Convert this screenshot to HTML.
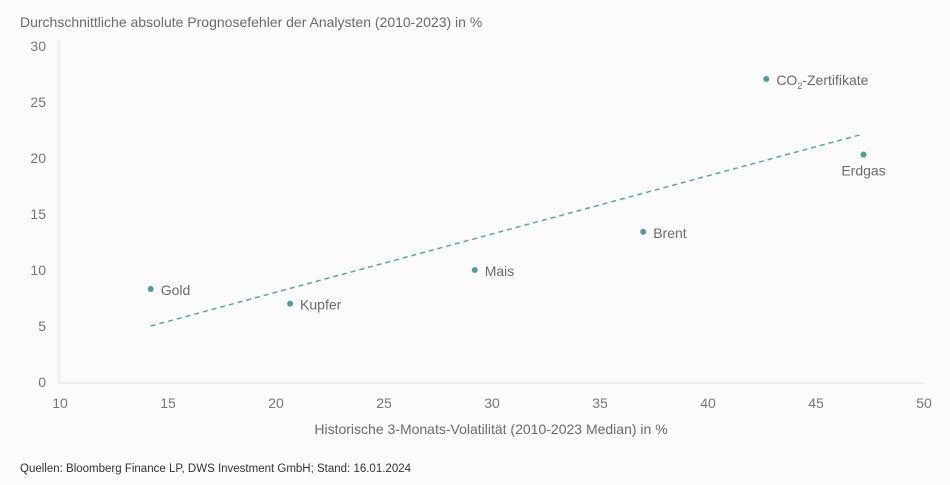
<!DOCTYPE html>
<html><head><meta charset="utf-8"><style>
body{margin:0;background:#fbfbfc;}
svg{display:block;font-family:"Liberation Sans",sans-serif;}
</style></head><body>
<svg id="chart" width="950" height="485">
<text x="20" y="27" font-size="14" fill="#6b6b6b">Durchschnittliche absolute Prognosefehler der Analysten (2010-2023) in %</text>
<text x="491" y="434" font-size="14" fill="#6b6b6b" text-anchor="middle">Historische 3-Monats-Volatilität (2010-2023 Median) in %</text>
<text x="20" y="472" font-size="11.5" fill="#333">Quellen: Bloomberg Finance LP, DWS Investment GmbH; Stand: 16.01.2024</text>
<line x1="59" y1="40" x2="59" y2="383" stroke="#e2e2e2"/>
<line x1="59" y1="383" x2="925" y2="383" stroke="#e2e2e2"/>
<g id="ticks"></g><g id="marks"></g>
</svg>
<script>
const xTicks=[10,15,20,25,30,35,40,45,50];
const yTicks=[0,5,10,15,20,25,30];
const labels=["Gold","Kupfer","Mais","Brent","CO2-Zertifikate","Erdgas"];
const xVals=[14.2,20.65,29.2,37.0,42.7,47.2];
const yVals=[8.3,7.0,10.0,13.4,27.05,20.3];
const trendX=[14.2,47.1];
const trendY=[5.0,22.1];
const sx=v=>60+(v-10)*21.6;
const sy=v=>382-v*11.2;
const NS="http://www.w3.org/2000/svg";
const T=document.getElementById('ticks'),M=document.getElementById('marks');
function mk(tag,attrs,parent,txt){const e=document.createElementNS(NS,tag);for(const k in attrs)e.setAttribute(k,attrs[k]);if(txt!==undefined)e.textContent=txt;parent.appendChild(e);return e;}
xTicks.forEach(t=>{const e=mk('text',{x:sx(t),y:408,'font-size':14,fill:'#777','text-anchor':'middle'},T,t);

});
yTicks.forEach(t=>{const e=mk('text',{x:46,y:sy(t)+5,'font-size':14,fill:'#777','text-anchor':'end'},T,t);

});
const tl=mk('line',{x1:sx(trendX[0]),y1:sy(trendY[0]),x2:sx(trendX[1]),y2:sy(trendY[1]),stroke:'#5aa5a0','stroke-width':1.5,'stroke-dasharray':'5,4'},M);


labels.forEach((l,i)=>{const cx=sx(xVals[i]),cy=sy(yVals[i]);
const c=mk('circle',{cx:cx,cy:cy,r:3,fill:'#4e9e98'},M);


let tx=cx+10,ty=cy+6,anchor='start';
if(l==='Erdgas'){tx=cx;ty=cy+21;anchor='middle';}
const t=mk('text',{x:tx,y:ty,'font-size':14,fill:'#6b6b6b','text-anchor':anchor},M);


if(l.startsWith('CO2')){t.textContent='CO';const s=mk('tspan',{'font-size':9,dy:4},t,'2');const r=mk('tspan',{dy:-4},t,'-Zertifikate');}
else t.textContent=l;});
</script>
</body></html>
